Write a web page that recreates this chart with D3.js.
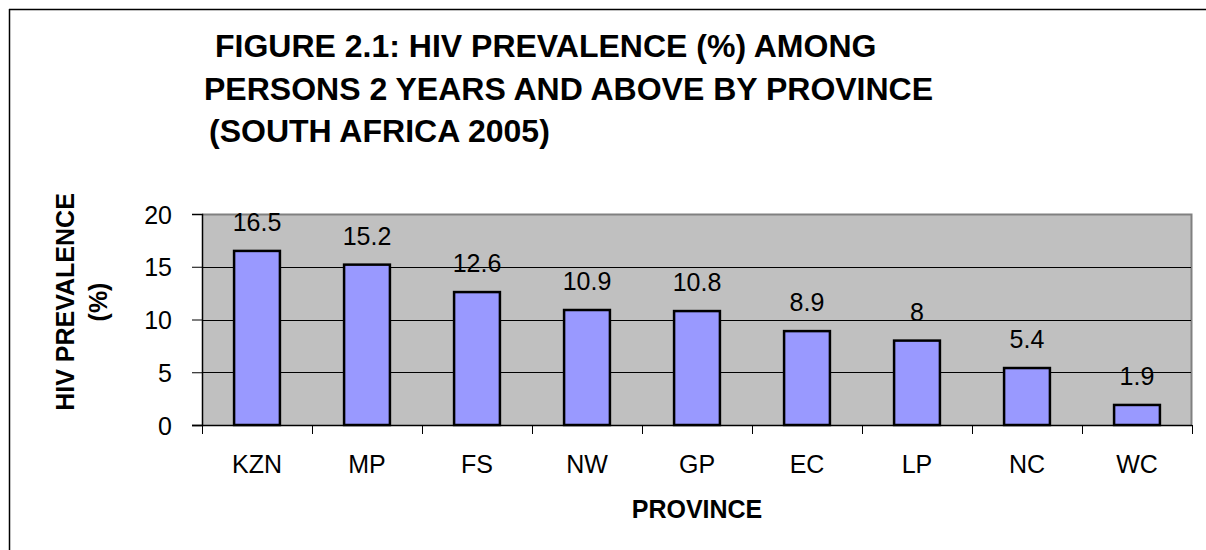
<!DOCTYPE html>
<html>
<head>
<meta charset="utf-8">
<script src="https://cdn.jsdelivr.net/npm/d3@7"></script>
<style>
  body { margin: 0; background: #fff; }
  text { font-family: Arial, "Liberation Sans", sans-serif; fill: #000; }
</style>
</head>
<body>
<div class="visHolder"></div>
<script>
const provinces = ['KZN', 'MP', 'FS', 'NW', 'GP', 'EC', 'LP', 'NC', 'WC'];
const prevalence = [16.5, 15.2, 12.6, 10.9, 10.8, 8.9, 8, 5.4, 1.9];
const yTicks = [0, 5, 10, 15, 20];
const titleLines = [
  'FIGURE 2.1: HIV PREVALENCE (%) AMONG',
  'PERSONS 2 YEARS AND ABOVE BY PROVINCE',
  '(SOUTH AFRICA 2005)'
];

const w = 1206;
const h = 550;
const plotL = 202, plotR = 1192, plotT = 214, plotB = 425;

var svg = d3.select('.visHolder')
  .append('svg')
  .attr('width', w)
  .attr('height', h);

// outer frame (only top and left edges are in view)
svg.append('line').attr('x1', 9).attr('x2', w).attr('y1', 9.5).attr('y2', 9.5)
  .attr('stroke', '#000').attr('stroke-width', 1.5);
svg.append('line').attr('x1', 9.5).attr('x2', 9.5).attr('y1', 9).attr('y2', h)
  .attr('stroke', '#000').attr('stroke-width', 1.5);

// title
const titleX = [215, 204, 209];
const titleY = [57, 100, 142];
svg.selectAll('.title')
  .data(titleLines)
  .enter()
  .append('text')
  .attr('class', 'title')
  .attr('x', (d, i) => titleX[i])
  .attr('y', (d, i) => titleY[i])
  .style('font-size', '32px')
  .style('font-weight', 'bold')
  .text(d => d);

const xScale = d3.scaleBand()
  .domain(provinces)
  .range([plotL, plotR])
  .paddingInner(0)
  .paddingOuter(0);

const yScale = d3.scaleLinear()
  .domain([0, 20])
  .range([plotB, plotT]);

// plot background
svg.append('rect')
  .attr('x', plotL)
  .attr('y', plotT)
  .attr('width', plotR - plotL)
  .attr('height', plotB - plotT)
  .attr('fill', '#c0c0c0');

svg.append('path')
  .attr('d', `M${plotL},${plotT + 0.5}H${plotR - 0.5}V${plotB}`)
  .attr('fill', 'none')
  .attr('stroke', '#808080')
  .attr('stroke-width', 2);

// gridlines
svg.selectAll('.grid')
  .data(yTicks.filter(t => t > 0 && t < 20))
  .enter()
  .append('line')
  .attr('x1', plotL)
  .attr('x2', plotR - 1)
  .attr('y1', d => Math.round(yScale(d)) + 0.5)
  .attr('y2', d => Math.round(yScale(d)) + 0.5)
  .attr('stroke', '#000')
  .attr('stroke-width', 1);

// y axis
const yAxis = d3.axisLeft(yScale).tickValues(yTicks).tickSize(10).tickPadding(20);
const gy = svg.append('g')
  .attr('transform', `translate(${plotL},0)`)
  .call(yAxis);
gy.select('.domain').attr('stroke', '#000').attr('stroke-width', 1.5);
gy.selectAll('.tick line').attr('stroke', '#000');
gy.selectAll('.tick text')
  .style('font-size', '25px')
  .attr('dy', '0.36em');

// x axis: ticks at category boundaries
const xEdges = provinces.map(p => xScale(p)).concat([plotR]);
svg.selectAll('.xtick')
  .data(xEdges)
  .enter()
  .append('line')
  .attr('x1', d => Math.round(d) + 0.5)
  .attr('x2', d => Math.round(d) + 0.5)
  .attr('y1', plotB)
  .attr('y2', plotB + 9)
  .attr('stroke', '#000');
svg.append('line')
  .attr('x1', plotL - 10).attr('x2', plotR)
  .attr('y1', plotB + 0.5).attr('y2', plotB + 0.5)
  .attr('stroke', '#000').attr('stroke-width', 1.5);

svg.selectAll('.xlabel')
  .data(provinces)
  .enter()
  .append('text')
  .attr('x', d => xScale(d) + xScale.bandwidth() / 2)
  .attr('y', 473)
  .attr('text-anchor', 'middle')
  .style('font-size', '25px')
  .text(d => d);

// bars
const barW = xScale.bandwidth() / 2.4;
svg.selectAll('.bar')
  .data(prevalence)
  .enter()
  .append('rect')
  .attr('class', 'bar')
  .attr('x', (d, i) => xScale(provinces[i]) + (xScale.bandwidth() - barW) / 2)
  .attr('y', d => yScale(d))
  .attr('width', barW)
  .attr('height', d => plotB - yScale(d))
  .attr('fill', '#9999ff')
  .attr('stroke', '#000')
  .attr('stroke-width', 2.5);

// value labels
svg.selectAll('.val')
  .data(prevalence)
  .enter()
  .append('text')
  .attr('x', (d, i) => xScale(provinces[i]) + xScale.bandwidth() / 2)
  .attr('y', d => yScale(d) - 20)
  .attr('text-anchor', 'middle')
  .style('font-size', '25px')
  .text(d => d);

// axis titles
svg.append('text')
  .attr('x', (plotL + plotR) / 2)
  .attr('y', 518)
  .attr('text-anchor', 'middle')
  .style('font-size', '25px')
  .style('font-weight', 'bold')
  .text('PROVINCE');

svg.append('text')
  .attr('transform', 'translate(74,302) rotate(-90)')
  .attr('text-anchor', 'middle')
  .style('font-size', '25px')
  .style('font-weight', 'bold')
  .text('HIV PREVALENCE');
svg.append('text')
  .attr('transform', 'translate(107,302) rotate(-90)')
  .attr('text-anchor', 'middle')
  .style('font-size', '25px')
  .style('font-weight', 'bold')
  .text('(%)');
</script>
</body>
</html>
